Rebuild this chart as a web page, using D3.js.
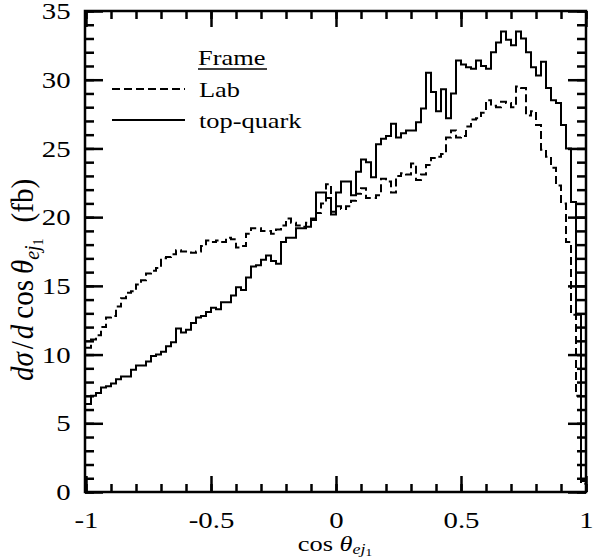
<!DOCTYPE html>
<html>
<head>
<meta charset="utf-8">
<script src="https://cdn.jsdelivr.net/npm/d3@7/dist/d3.min.js"></script>
<style>
  body { margin: 0; background: #fff; }
  text { font-family: "Liberation Serif", "Times New Roman", serif; fill: #000; }
</style>
</head>
<body>
<script>
// histogram bins: cos theta from -1 to 1, width 0.02 (100 bins)
var binStart = -1, binWidth = 0.02;

// Lab frame (dashed)
var labFrame = [10.5, 11.1, 11.4, 12.0, 12.7, 12.8, 13.5, 14.1, 14.5, 14.6,
  15.1, 15.4, 15.9, 16.1, 16.3, 17.0, 17.1, 17.3, 17.6, 17.5,
  17.5, 17.4, 17.5, 17.9, 18.3, 18.2, 18.3, 18.2, 18.5, 18.4,
  17.8, 17.9, 18.8, 19.2, 19.2, 19.0, 19.0, 18.8, 19.1, 19.4,
  19.9, 19.6, 19.4, 19.3, 19.6, 19.9, 20.3, 21.0, 22.4, 20.4,
  20.8, 20.6, 20.8, 21.2, 21.7, 22.1, 21.4, 21.4, 21.6, 22.8,
  22.6, 21.8, 23.0, 23.2, 23.1, 23.9, 22.7, 23.1, 23.8, 24.3,
  24.4, 24.6, 25.8, 26.3, 25.8, 25.9, 26.6, 27.1, 27.2, 27.6,
  28.5, 28.1, 28.0, 28.4, 28.3, 28.0, 29.5, 29.4, 27.4, 27.7,
  26.7, 24.9, 24.4, 23.6, 22.3, 21.0, 18.2, 12.9, 7.0, 0.6];

// top-quark frame (solid)
var topFrame = [6.4, 7.0, 7.2, 7.6, 7.7, 7.9, 8.2, 8.4, 8.4, 8.9,
  9.2, 9.2, 9.5, 9.9, 10.0, 10.2, 10.6, 10.9, 11.9, 11.6,
  11.8, 12.3, 12.7, 12.8, 13.1, 13.4, 13.3, 13.8, 13.8, 14.3,
  14.9, 14.7, 15.6, 16.4, 16.5, 16.9, 17.2, 16.8, 16.6, 18.2,
  18.5, 18.5, 19.2, 19.2, 19.3, 19.8, 21.8, 21.8, 21.4, 20.2,
  21.8, 22.6, 22.6, 21.6, 23.3, 24.2, 24.0, 22.9, 25.3, 25.7,
  25.9, 26.8, 25.8, 26.1, 26.3, 26.3, 26.9, 27.9, 30.5, 29.1,
  27.7, 29.3, 27.2, 29.0, 31.4, 31.1, 30.9, 30.8, 31.4, 31.0,
  30.8, 32.0, 32.7, 33.5, 32.9, 32.5, 33.5, 33.0, 32.0, 30.9,
  30.3, 31.3, 29.4, 28.5, 28.3, 26.7, 25.0, 21.1, 12.9, 0.8];

var xMajor = [-1, -0.5, 0, 0.5, 1];
var xLabels = ["-1", "-0.5", "0", "0.5", "1"];
var yMajor = [0, 5, 10, 15, 20, 25, 30, 35];

var legendTitle = "Frame";
var legendNames = ["Lab", "top-quark"];

var W = 595, H = 560;
var mLeft = 85, mRight = 586, mTop = 11, mBottom = 492;
var sx = 1.2; // fonts in the figure are a bit wider than tall

var x = d3.scaleLinear().domain([-1, 1]).range([mLeft + 1, mRight]);
var y = d3.scaleLinear().domain([0, 35]).range([mBottom, mTop]);

var svg = d3.select("body").append("svg")
    .attr("width", W)
    .attr("height", H);

// step histograms
function steps(vals) {
  var pts = vals.map(function(v, i) { return [binStart + i * binWidth, v]; });
  pts.push([binStart + vals.length * binWidth, vals[vals.length - 1]]);
  return pts;
}
var line = d3.line()
    .x(function(d) { return x(d[0]); })
    .y(function(d) { return y(d[1]); })
    .curve(d3.curveStepAfter);

svg.append("path")
    .attr("fill", "none")
    .attr("stroke", "#000")
    .attr("stroke-width", 2)
    .attr("stroke-dasharray", "8,4")
    .attr("d", line(steps(labFrame)));

svg.append("path")
    .attr("fill", "none")
    .attr("stroke", "#000")
    .attr("stroke-width", 2)
    .attr("d", line(steps(topFrame)));

// axes, ticks inward on all four sides
var xMinor = d3.range(-10, 11).map(function(k) { return k / 10; });
var yMinor = d3.range(0, 36);

function styleAxis(g) {
  g.select(".domain").remove();
  g.selectAll("line").attr("stroke-width", 2.5);
}

svg.append("g").attr("transform", "translate(0," + mBottom + ")")
    .call(d3.axisBottom(x).tickValues(xMinor).tickSize(-8).tickFormat(""))
    .call(styleAxis);
svg.append("g").attr("transform", "translate(0," + mTop + ")")
    .call(d3.axisTop(x).tickValues(xMinor).tickSize(-8).tickFormat(""))
    .call(styleAxis);
svg.append("g").attr("transform", "translate(0," + mTop + ")")
    .call(d3.axisTop(x).tickValues(xMajor).tickSize(-16).tickFormat(""))
    .call(styleAxis);
svg.append("g").attr("transform", "translate(" + mLeft + ",0)")
    .call(d3.axisLeft(y).tickValues(yMinor).tickSize(-9).tickFormat(""))
    .call(styleAxis);
svg.append("g").attr("transform", "translate(" + mRight + ",0)")
    .call(d3.axisRight(y).tickValues(yMinor).tickSize(-9).tickFormat(""))
    .call(styleAxis);
svg.append("g").attr("transform", "translate(" + mRight + ",0)")
    .call(d3.axisRight(y).tickValues(yMajor).tickSize(-18).tickFormat(""))
    .call(styleAxis);

svg.append("g").attr("transform", "translate(0," + mBottom + ")")
    .call(d3.axisBottom(x).tickValues(xMajor).tickSize(-16).tickPadding(19)
      .tickFormat(function(d, i) { return xLabels[i]; }))
    .call(styleAxis);
svg.append("g").attr("transform", "translate(" + mLeft + ",0)")
    .call(d3.axisLeft(y).tickValues(yMajor).tickSize(-18).tickPadding(12))
    .call(styleAxis);

svg.selectAll(".tick text")
    .attr("font-family", "Liberation Serif")
    .attr("font-size", 24)
    .attr("fill", "#000")
    .attr("transform", "scale(" + sx + ",1)");

// frame
svg.append("rect")
    .attr("x", mLeft).attr("y", mTop)
    .attr("width", mRight - mLeft).attr("height", mBottom - mTop)
    .attr("fill", "none")
    .attr("stroke", "#000")
    .attr("stroke-width", 2.5);

// axis titles
var xt = svg.append("text")
    .attr("transform", "translate(335,551) scale(" + sx + ",1)")
    .attr("text-anchor", "middle")
    .attr("font-size", 22);
xt.append("tspan").text("cos ");
xt.append("tspan").attr("font-style", "italic").text("θ");
xt.append("tspan").attr("font-style", "italic").attr("font-size", 15).attr("dy", 3).text("ej");
xt.append("tspan").attr("font-size", 11).attr("dy", 2).text("1");

var yt = svg.append("text")
    .attr("transform", "translate(33,280) scale(1.08,1) rotate(-90)")
    .attr("text-anchor", "middle")
    .attr("font-size", 29);
yt.append("tspan").attr("font-style", "italic").text("dσ");
yt.append("tspan").attr("dx", 3).text("/");
yt.append("tspan").attr("dx", 2).attr("font-style", "italic").text("d");
yt.append("tspan").attr("dx", 6).text("cos");
yt.append("tspan").attr("dx", 6).attr("font-style", "italic").text("θ");
yt.append("tspan").attr("font-style", "italic").attr("font-size", 20).attr("dy", 6).text("ej");
yt.append("tspan").attr("font-size", 14).attr("dy", 3).text("1");
yt.append("tspan").attr("dx", 16).attr("dy", -9).text("(fb)");

// legend
var lg = svg.append("g");
lg.append("text")
    .attr("transform", "translate(198,65) scale(" + sx + ",1)")
    .attr("font-size", 22)
    .text(legendTitle);
lg.append("line")
    .attr("x1", 198).attr("x2", 267).attr("y1", 69).attr("y2", 69)
    .attr("stroke", "#000").attr("stroke-width", 1.5);

legendNames.forEach(function(name, i) {
  var yy = 89 + i * 31;
  lg.append("line")
      .attr("x1", 112).attr("x2", 185).attr("y1", yy).attr("y2", yy)
      .attr("stroke", "#000").attr("stroke-width", 2)
      .attr("stroke-dasharray", i === 0 ? "8,4" : null);
  lg.append("text")
      .attr("transform", "translate(199," + (yy + 7.5) + ") scale(" + sx + ",1)")
      .attr("font-size", 22)
      .text(name);
});
</script>
</body>
</html>
